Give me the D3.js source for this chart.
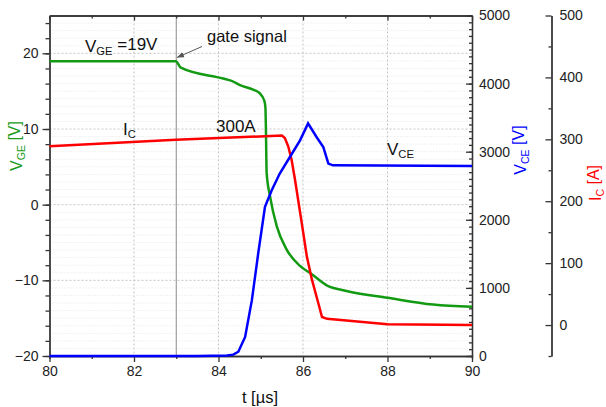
<!DOCTYPE html>
<html>
<head>
<meta charset="utf-8">
<script src="https://cdn.jsdelivr.net/npm/d3@7"></script>
<style>
  body { margin: 0; background: #fff; }
  svg { display: block; font-family: "Liberation Sans", Arial, sans-serif; }
  .tick text { font-size: 14px; fill: #222; }
</style>
</head>
<body>
<div id="chart"></div>
<script>
// time axis [µs]
var vgeT = [80, 82.99, 83.11, 84.11, 84.31, 84.51, 84.82, 84.98, 85.08, 85.11, 85.12, 85.14, 85.22, 85.38, 85.61, 85.93, 86.21, 86.56, 87.03, 88.0, 89.08, 90];
var vgeV = [18.95, 18.95, 18.1, 16.67, 16.36, 15.8, 15.2, 14.7, 13.8, 12.9, 10.75, 4.17, 1.1, -2.86, -5.9, -8.1, -9.2, -10.66, -11.4, -12.3, -13.2, -13.5];

var vceT = [80, 83.5, 84.2, 84.35, 84.47, 84.63, 84.79, 84.94, 85.1, 85.26, 85.45, 85.69, 85.93, 86.12, 86.32, 86.48, 86.6, 86.71, 90];
var vceV = [0, 0, 8, 20, 63, 280, 820, 1506, 2190, 2434, 2679, 2922, 3167, 3416, 3216, 3069, 2826, 2800, 2790];

var icT = [80, 82.99, 85.5, 85.57, 85.65, 85.73, 85.81, 85.97, 86.09, 86.21, 86.36, 86.45, 86.57, 88.0, 90];
var icV = [288.7, 299.5, 306, 302, 288.7, 267, 235, 165, 111, 73.7, 36, 13, 10, 1.1, 0];

var tTicks = [80, 82, 84, 86, 88, 90];
var vgeTicks = [-20, -10, 0, 10, 20];
var vceTicks = [0, 1000, 2000, 3000, 4000, 5000];
var icTicks = [0, 100, 200, 300, 400, 500];
var gateT = 83;

var W = 606, H = 407;
var pLeft = 49.5, pRight = 472, pTop = 15.5, pBottom = 356;
var icAxisX = 551.5;

var svg = d3.select("#chart").append("svg")
  .attr("width", W).attr("height", H);

// scales
var x = d3.scaleLinear().domain([80, 90]).range([pLeft, pRight]);
var yL = d3.scaleLinear().domain([-20, 25]).range([pBottom, pTop]);
var yV = d3.scaleLinear().domain([0, 5000]).range([pBottom, pTop]);
var yI = d3.scaleLinear().domain([-50, 500]).range([pBottom, pTop]);

// grid
var grid = svg.append("g");
grid.selectAll(".hmin").data(d3.range(-19, 26, 1).filter(function(d) { return d % 10 != 0; }))
  .enter().append("line")
    .attr("x1", pLeft).attr("x2", pRight)
    .attr("y1", function(d) { return yL(d); }).attr("y2", function(d) { return yL(d); })
    .style("stroke", "#e4e4e4").style("stroke-dasharray", "1,2");
grid.selectAll(".hmaj").data([-10, 0, 10, 20])
  .enter().append("line")
    .attr("x1", pLeft).attr("x2", pRight)
    .attr("y1", function(d) { return yL(d); }).attr("y2", function(d) { return yL(d); })
    .style("stroke", "#c4c4c4").style("stroke-dasharray", "2,2");
grid.selectAll(".vmaj").data([82, 84, 86, 88])
  .enter().append("line")
    .attr("y1", pTop).attr("y2", pBottom)
    .attr("x1", function(d) { return x(d); }).attr("x2", function(d) { return x(d); })
    .style("stroke", "#c4c4c4").style("stroke-dasharray", "2,2");

// gate signal marker
svg.append("line")
  .attr("x1", x(gateT)).attr("x2", x(gateT))
  .attr("y1", pTop).attr("y2", pBottom)
  .style("stroke", "#8a8a8a").style("stroke-width", 1);

// axes
function styleAxis(g) {
  g.selectAll("path, line").style("stroke", "#333").style("stroke-width", 1.3);
}

// bottom
svg.append("g").attr("transform", "translate(0," + pBottom + ")")
  .call(d3.axisBottom(x).tickValues([81, 83, 85, 87, 89]).tickSize(3).tickFormat(""))
  .call(styleAxis);
svg.append("g").attr("transform", "translate(0," + pBottom + ")")
  .call(d3.axisBottom(x).tickValues(tTicks).tickSize(6).tickSizeOuter(0).tickPadding(4).tickFormat(d3.format("d")))
  .call(styleAxis);

// top (ticks inward)
svg.append("g").attr("transform", "translate(0," + pTop + ")")
  .call(d3.axisTop(x).tickValues(tTicks).tickSizeInner(-5).tickSizeOuter(0).tickFormat(""))
  .call(styleAxis);
svg.append("g").attr("transform", "translate(0," + pTop + ")")
  .call(d3.axisTop(x).tickValues([81, 83, 85, 87, 89]).tickSizeInner(-3).tickSizeOuter(0).tickFormat(""))
  .call(styleAxis);

// left V_GE
svg.append("g").attr("transform", "translate(" + pLeft + ",0)")
  .call(d3.axisLeft(yL).tickValues(d3.range(-20, 26, 2)).tickSize(4).tickSizeOuter(0).tickFormat(""))
  .call(styleAxis);
svg.append("g").attr("transform", "translate(" + pLeft + ",0)")
  .call(d3.axisLeft(yL).tickValues(vgeTicks).tickSize(7).tickSizeOuter(0).tickPadding(4))
  .call(styleAxis);

// right V_CE
svg.append("g").attr("transform", "translate(" + pRight + ",0)")
  .call(d3.axisRight(yV).tickValues(d3.range(0, 5001, 100)).tickSizeInner(-3).tickSizeOuter(0).tickFormat(""))
  .call(styleAxis);
svg.append("g").attr("transform", "translate(" + pRight + ",0)")
  .call(d3.axisRight(yV).tickValues(vceTicks).tickSizeInner(-6).tickSizeOuter(0).tickPadding(7).tickFormat(d3.format("d")))
  .call(styleAxis);

// far right I_C
svg.append("g").attr("transform", "translate(" + icAxisX + ",0)")
  .call(d3.axisRight(yI).tickValues(d3.range(-50, 501, 100)).tickSizeInner(-3).tickSizeOuter(0).tickFormat(""))
  .call(styleAxis);
svg.append("g").attr("transform", "translate(" + icAxisX + ",0)")
  .call(d3.axisRight(yI).tickValues(icTicks).tickSizeInner(-6).tickSizeOuter(0).tickPadding(8).tickFormat(d3.format("d")))
  .call(styleAxis);

// data lines
var lineL = d3.line().x(function(d) { return x(d[0]); }).y(function(d) { return yL(d[1]); });
var lineV = d3.line().x(function(d) { return x(d[0]); }).y(function(d) { return yV(d[1]); });
var lineI = d3.line().x(function(d) { return x(d[0]); }).y(function(d) { return yI(d[1]); });

svg.append("path").datum(d3.zip(vgeT, vgeV))
  .attr("d", lineL.curve(d3.curveMonotoneX))
  .style("fill", "none").style("stroke", "#139a13").style("stroke-width", 2.5);
svg.append("path").datum(d3.zip(icT, icV))
  .attr("d", lineI)
  .style("fill", "none").style("stroke", "#ff0000").style("stroke-width", 2.5);
svg.append("path").datum(d3.zip(vceT, vceV))
  .attr("d", lineV)
  .style("fill", "none").style("stroke", "#0000ff").style("stroke-width", 2.5);

// annotations
function subText(g, main, sub, rest, size) {
  var t = g.append("text").style("font-size", size + "px").style("fill", "inherit");
  t.append("tspan").text(main);
  t.append("tspan").text(sub).attr("dy", "0.3em").style("font-size", (size * 0.66) + "px");
  if (rest) t.append("tspan").text(rest).attr("dy", "-0.3em").style("font-size", size + "px");
  return t;
}

var ann = svg.append("g").style("fill", "#111");
subText(ann, "V", "GE", " =19V", 17).attr("x", 85).attr("y", 52);
subText(ann, "I", "C", null, 17).attr("x", 123).attr("y", 135);
ann.append("text").attr("x", 216).attr("y", 131.5).style("font-size", "17px").text("300A");
subText(ann, "V", "CE", null, 17).attr("x", 387).attr("y", 155);
ann.append("text").attr("x", 207).attr("y", 42).style("font-size", "16.5px").text("gate signal");

// arrow
svg.append("defs").append("marker")
  .attr("id", "arr").attr("viewBox", "0 0 10 10").attr("refX", 10).attr("refY", 5)
  .attr("markerWidth", 7).attr("markerHeight", 7).attr("orient", "auto")
  .append("path").attr("d", "M0,1 L10,5 L0,9 z").style("fill", "#555");
svg.append("line")
  .attr("x1", 202).attr("y1", 46.5).attr("x2", 177).attr("y2", 57.5)
  .attr("marker-end", "url(#arr)")
  .style("stroke", "#555").style("stroke-width", 1);

// axis titles
var tl = svg.append("g").attr("transform", "translate(22,146) rotate(-90)").style("fill", "#1a9a1a");
subText(tl, "V", "GE", " [V]", 16).attr("text-anchor", "middle");
var tv = svg.append("g").attr("transform", "translate(526,150) rotate(-90)").style("fill", "#0000ff");
subText(tv, "V", "CE", " [V]", 16).attr("text-anchor", "middle");
var ti = svg.append("g").attr("transform", "translate(601,183) rotate(-90)").style("fill", "#ff0000");
subText(ti, "I", "C", " [A]", 16).attr("text-anchor", "middle");

svg.append("text").attr("x", 260).attr("y", 403)
  .attr("text-anchor", "middle").style("font-size", "16.5px").style("fill", "#111")
  .text("t [µs]");
</script>
</body>
</html>
